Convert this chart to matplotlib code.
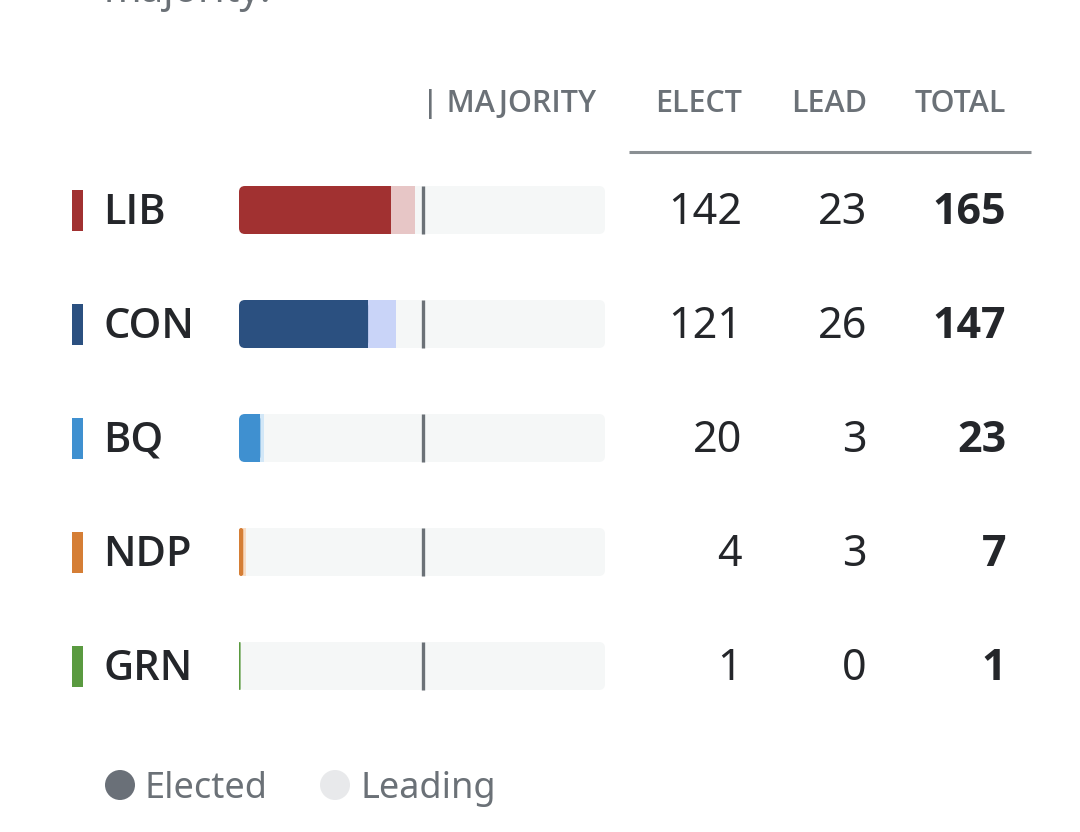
import matplotlib.pyplot as plt
from matplotlib.patches import FancyBboxPatch, Rectangle, Circle

# data
partis = ['LIB', 'CON', 'BQ', 'NDP', 'GRN']
elus = [142, 121, 20, 4, 1]
en_tete = [23, 26, 3, 3, 0]
totaux = [e + l for e, l in zip(elus, en_tete)]
sieges = 343
majorite = 172

couleurs = ['#a13131', '#2b5080', '#3f90d0', '#d57e35', '#5a9a40']
couleurs_clair = ['#e7c6c6', '#c9d4f8', '#d2e7f7', '#f8dcc3', '#d4ead0']

plt.rcParams['font.family'] = ['Noto Sans', 'DejaVu Sans']
cinza = '#6b7177'
escuro = '#24262a'
negrito = ['Open Sans', 'Liberation Sans', 'DejaVu Sans']

fig = plt.figure(figsize=(10.8, 8.32), dpi=100)
ax = fig.add_axes([0, 0, 1, 1])
ax.set_xlim(0, 1080)
ax.set_ylim(832, 0)
ax.axis('off')

# barras: eixo proprio com escala de assentos
bx = fig.add_axes([239 / 1080, 0, 366 / 1080, 1])
bx.set_xlim(0, sieges)
bx.set_ylim(832, 0)
bx.axis('off')

px = sieges / 366  # assentos por pixel
raio = 6 * px
asp = 1 / px

# texto cortado no topo
ax.text(104, 1.5, 'majority.', fontsize=29, color=cinza, va='baseline', ha='left')

# cabecalho
cab = dict(fontsize=22, color=cinza, va='center', fontweight='semibold', family=negrito)
ax.text(422, 104, '| MAJORITY', ha='left', **cab)
ax.text(742, 104, 'ELECT', ha='right', **cab)
ax.text(867, 104, 'LEAD', ha='right', **cab)
ax.text(1006, 104, 'TOTAL', ha='right', **cab)
ax.plot([629, 1031], [152, 152], color='#8a8f93', lw=2.2, solid_capstyle='butt')

y0 = 210
passo = 114
h = 48
for i, p in enumerate(partis):
    y = y0 + i * passo
    # marcador do partido
    ax.add_patch(Rectangle((72, y - 20), 11, 41, color=couleurs[i], lw=0))
    ax.text(103, y + 3, p, fontsize=30, color=escuro, va='center', ha='left',
            fontweight='semibold', family=negrito)

    # fundo
    bx.add_patch(FancyBboxPatch((0, y - h / 2), sieges, h,
                                boxstyle=f'round,pad=0,rounding_size={raio}',
                                mutation_aspect=asp, fc='#f5f7f7', ec='none'))
    # lideranca
    bx.add_patch(Rectangle((elus[i], y - h / 2), en_tete[i], h,
                           fc=couleurs_clair[i], ec='none'))
    # eleitos
    largura = max(elus[i], 1.6 * px)
    bx.add_patch(FancyBboxPatch((0, y - h / 2), largura, h,
                                boxstyle=f'round,pad=0,rounding_size={min(raio, largura / 2)}',
                                mutation_aspect=asp, fc=couleurs[i], ec='none'))
    if largura > raio:
        bx.add_patch(Rectangle((largura - raio, y - h / 2), raio, h,
                               fc=couleurs[i], ec='none'))
    # linha da maioria
    bx.plot([majorite, majorite], [y - h / 2, y + h / 2], color=cinza, lw=2.4,
            solid_capstyle='butt')

    ax.text(742, y + 3, str(elus[i]), fontsize=31, color=escuro, va='center', ha='right')
    ax.text(867, y + 3, str(en_tete[i]), fontsize=31, color=escuro, va='center', ha='right')
    ax.text(1006, y + 3, str(totaux[i]), fontsize=31, color=escuro, va='center',
            ha='right', fontweight='bold', family=negrito)

# legenda
ax.add_patch(Circle((120, 785), 15, color='#6a7078', lw=0))
ax.text(145, 789, 'Elected', fontsize=26, color=cinza, va='center', ha='left')
ax.add_patch(Circle((335, 785), 15, color='#e8e9eb', lw=0))
ax.text(360, 789, 'Leading', fontsize=26, color=cinza, va='center', ha='left')

fig.savefig('out.png', dpi=100, facecolor='white')
